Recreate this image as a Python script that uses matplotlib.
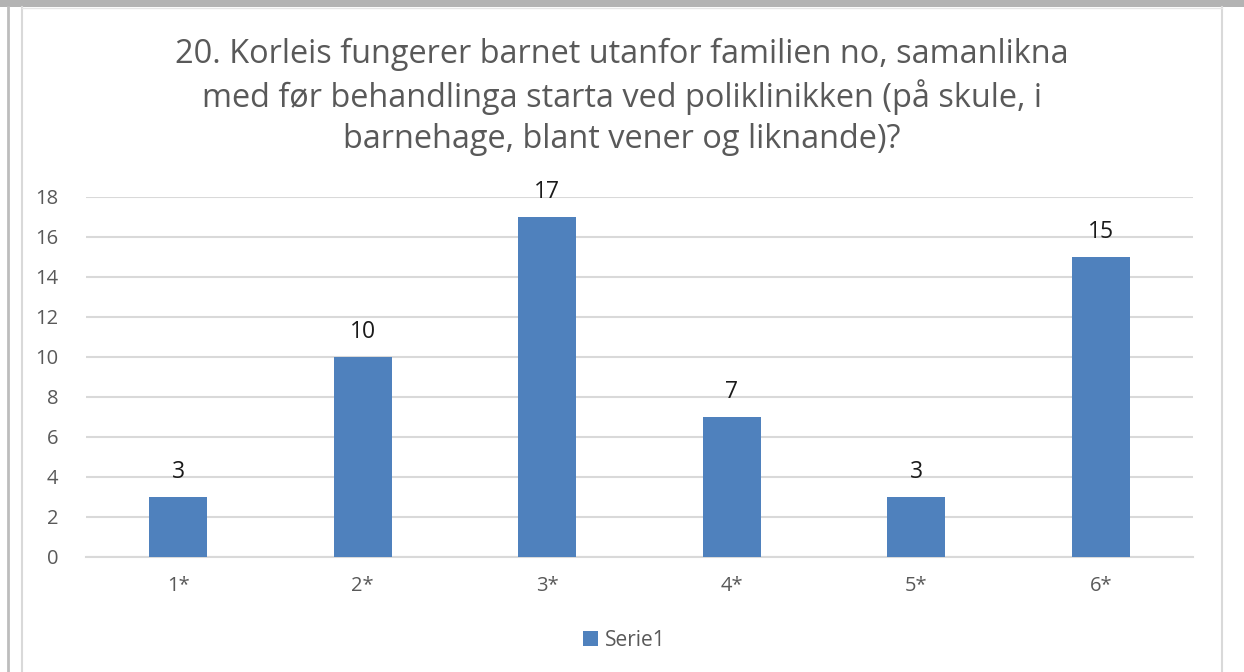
import matplotlib
matplotlib.use("Agg")
import matplotlib.pyplot as plt
from matplotlib.patches import Rectangle
from matplotlib.lines import Line2D

categories = ["1*", "2*", "3*", "4*", "5*", "6*"]
values = [3, 10, 17, 7, 3, 15]
series_name = "Serie1"
title = ("20. Korleis fungerer barnet utanfor familien no, samanlikna\n"
         "med før behandlinga starta ved poliklinikken (på skule, i\n"
         "barnehage, blant vener og liknande)?")
yticks = [0, 2, 4, 6, 8, 10, 12, 14, 16, 18]

W, H = 1244, 672
fig = plt.figure(figsize=(W / 100, H / 100), dpi=100)
fig.patch.set_facecolor("white")
plt.rcParams["font.family"] = ["Open Sans", "DejaVu Sans"]

# page decorations
fig.add_artist(Rectangle((0, 1 - 7 / H), 1, 7 / H, transform=fig.transFigure,
                         facecolor="#b3b3b3", edgecolor="none", zorder=0))
fig.add_artist(Line2D([8 / W, 8 / W], [0, 1 - 7 / H], transform=fig.transFigure,
                      color="#bdbdbd", lw=2))
fig.add_artist(Line2D([22 / W, 22 / W], [0, 1 - 7 / H], transform=fig.transFigure,
                      color="#d9d9d9", lw=1.5))
fig.add_artist(Line2D([1222 / W, 1222 / W], [0, 1 - 7 / H], transform=fig.transFigure,
                      color="#d9d9d9", lw=1.5))
fig.add_artist(Line2D([22 / W, 1222 / W], [1 - 8 / H, 1 - 8 / H], transform=fig.transFigure,
                      color="#e6e6e6", lw=1))

left, right = 86, 1193
top, bottom = 197, 557
ax = fig.add_axes([left / W, 1 - bottom / H, (right - left) / W, (bottom - top) / H])
x = list(range(len(categories)))
bars = ax.bar(x, values, width=0.315, color="#4f81bd", zorder=3, label=series_name)
ax.set_xlim(-0.5, len(categories) - 0.5)
ax.set_ylim(0, 18)
ax.set_yticks(yticks)
ax.set_xticks(x)
ax.set_xticklabels(categories)
ax.yaxis.grid(True, color="#d9d9d9", lw=1.5, zorder=0)
for s in ["top", "right", "left"]:
    ax.spines[s].set_visible(False)
ax.spines["bottom"].set_color("#d9d9d9")
ax.spines["bottom"].set_linewidth(1.5)
ax.tick_params(axis="both", length=0, labelsize=14.5, colors="#595959")
ax.tick_params(axis="y", pad=20)
ax.tick_params(axis="x", pad=14)
for xi, v in zip(x, values):
    ax.annotate(str(v), (xi, v), xytext=(0, 9), textcoords="offset points",
                ha="center", va="bottom", fontsize=16.5, color="#1a1a1a")

fig.text(622 / W, 1 - 97 / H, title, ha="center", va="center", fontsize=23.4,
         color="#595959", linespacing=1.32)

leg = fig.legend(handles=[bars], labels=[series_name], loc="center",
                 bbox_to_anchor=(624 / W, 1 - 640 / H), frameon=False,
                 fontsize=15, handlelength=0.75, handleheight=0.75, handletextpad=0.3)
for t in leg.get_texts():
    t.set_color("#595959")

fig.savefig("out.png", dpi=100, facecolor="white")
